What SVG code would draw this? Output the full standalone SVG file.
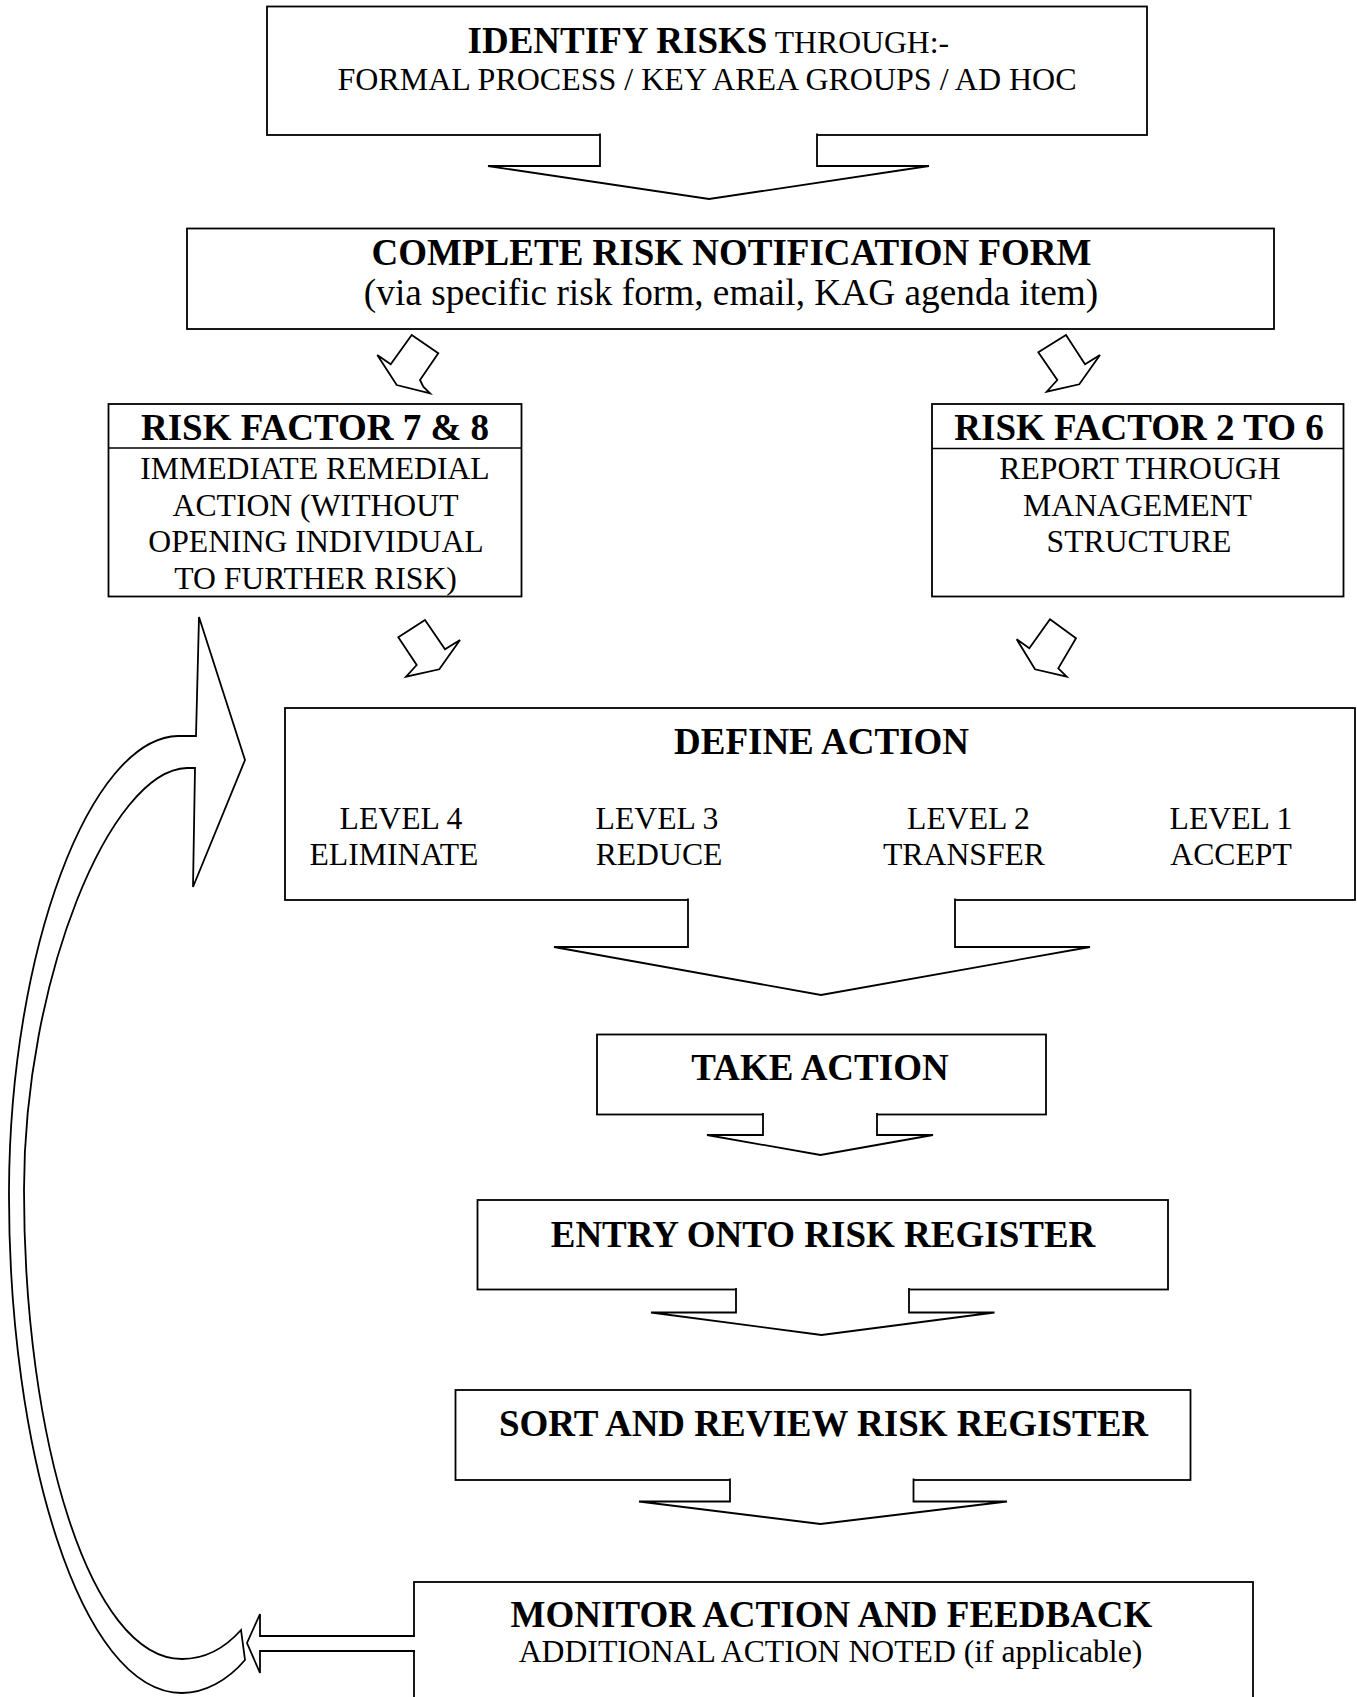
<svg xmlns="http://www.w3.org/2000/svg" width="1357" height="1697" viewBox="0 0 1357 1697">
<style>
.bx{fill:#fff;stroke:#000;stroke-width:1.8}
.ln{fill:none;stroke:#000;stroke-width:1.6}
.ar{fill:#fff;stroke:#000;stroke-width:1.8;stroke-linejoin:miter}
.r{font-family:"Liberation Serif","Times New Roman",serif;font-size:31.7px;fill:#000;text-anchor:middle}
.b{font-family:"Liberation Serif","Times New Roman",serif;font-size:37px;font-weight:bold;fill:#000;text-anchor:middle}
</style>
<rect width="1357" height="1697" fill="#fff"/>
<g id="identify">
<rect class="bx" x="267" y="6.5" width="880" height="128.5"/>
<text class="r" x="708.3" y="53"><tspan class="b" style="font-size:37px;font-weight:bold">IDENTIFY RISKS</tspan> THROUGH:-</text>
<text class="r" x="707" y="90" style="font-size:32px">FORMAL PROCESS / KEY AREA GROUPS / AD HOC</text>
</g>
<g id="notification">
<rect class="bx" x="187" y="228.5" width="1087" height="100.5"/>
<text class="b" x="731.5" y="265">COMPLETE RISK NOTIFICATION FORM</text>
<text class="r" x="731" y="305" style="font-size:37.3px">(via specific risk form, email, KAG agenda item)</text>
</g>
<g id="rf78">
<rect class="bx" x="108.5" y="404" width="413" height="192.5"/>
<line class="ln" x1="108.5" y1="448" x2="521.5" y2="448"/>
<text class="b" x="315" y="439.5">RISK FACTOR 7 &amp; 8</text>
<text class="r" x="315" y="479">IMMEDIATE REMEDIAL</text>
<text class="r" x="315.5" y="515.5">ACTION (WITHOUT</text>
<text class="r" x="316" y="552">OPENING INDIVIDUAL</text>
<text class="r" x="315.5" y="588.5">TO FURTHER RISK)</text>
</g>
<g id="rf26">
<rect class="bx" x="932" y="404" width="411.5" height="192.5"/>
<line class="ln" x1="932" y1="448.5" x2="1343.5" y2="448.5"/>
<text class="b" x="1139" y="439.5">RISK FACTOR 2 TO 6</text>
<text class="r" x="1140" y="479">REPORT THROUGH</text>
<text class="r" x="1137.5" y="515.5">MANAGEMENT</text>
<text class="r" x="1139" y="552">STRUCTURE</text>
</g>
<g id="define">
<rect class="bx" x="285" y="708" width="1070" height="192"/>
<text class="b" x="821.5" y="753.5">DEFINE ACTION</text>
<text class="r" x="401" y="828.5">LEVEL 4</text>
<text class="r" x="394" y="865">ELIMINATE</text>
<text class="r" x="657" y="828.5">LEVEL 3</text>
<text class="r" x="659" y="865">REDUCE</text>
<text class="r" x="968.5" y="828.5">LEVEL 2</text>
<text class="r" x="964" y="865">TRANSFER</text>
<text class="r" x="1231" y="828.5">LEVEL 1</text>
<text class="r" x="1231" y="865">ACCEPT</text>
</g>
<g id="take">
<rect class="bx" x="597" y="1034.5" width="449" height="80"/>
<text class="b" x="820" y="1080">TAKE ACTION</text>
</g>
<g id="entry">
<rect class="bx" x="477.5" y="1200" width="690.5" height="89.5"/>
<text class="b" x="823" y="1246.5">ENTRY ONTO RISK REGISTER</text>
</g>
<g id="sort">
<rect class="bx" x="455.5" y="1390" width="735" height="90"/>
<text class="b" x="823.5" y="1435.5">SORT AND REVIEW RISK REGISTER</text>
</g>
<g id="monitor">
<rect class="bx" x="414" y="1582" width="839" height="140"/>
<text class="b" x="831.5" y="1627">MONITOR ACTION AND FEEDBACK</text>
<text class="r" x="830.5" y="1662">ADDITIONAL ACTION NOTED (if applicable)</text>
</g>
<g id="connectors">
<path class="ar" d="M600,133.5 L600,166 L488,166 L709,199 L929,166 L817,166 L817,133.5"/>
<polygon class="ar" points="411.7,335 438.3,353.3 420,380 423.3,386.7 430,393.3 396.7,385 377.3,355 390.7,364.3"/>
<polygon class="ar" points="1066,335 1085,364.3 1100,355 1079.3,384.3 1046.7,391.7 1057.3,380 1038.3,352.3"/>
<polygon class="ar" points="425,620 445,649.3 460,640 439.3,669.3 406,676.7 416.7,665 398.3,637.3"/>
<polygon class="ar" points="1050,619.3 1076,638.3 1058.3,668.3 1066.7,676.7 1035,669.3 1016.7,639.3 1029.3,648.3"/>
<path class="ar" d="M688,898.5 L688,947 L554,947 L821,995 L1090,947 L955,947 L955,898.5"/>
<path class="ar" d="M763,1113 L763,1135 L707,1135 L820.5,1155 L933,1135 L877,1135 L877,1113"/>
<path class="ar" d="M736,1288 L736,1312.5 L651,1312.5 L821.5,1335 L994.5,1312.5 L909,1312.5 L909,1288"/>
<path class="ar" d="M730,1478.5 L730,1501.5 L639,1501.5 L820.5,1524 L1007,1501.5 L913.5,1501.5 L913.5,1478.5"/>
<path class="ar" d="M245,1660 C228,1680 205,1693 182,1693 C80,1693 8,1450 9,1190 C10,950 90,738 178,736 L196,736 L199,617 L245,760 L193,887 L195,768 L187,768 C110,770 24,980 24,1190 C24,1440 90,1659 182,1659 C205,1659 225,1648 241,1630 Z"/>
<path class="ar" d="M415,1636 L260,1636 L260,1614 L247,1643 L260,1673 L260,1651 L415,1651"/>
</g>
</svg>
